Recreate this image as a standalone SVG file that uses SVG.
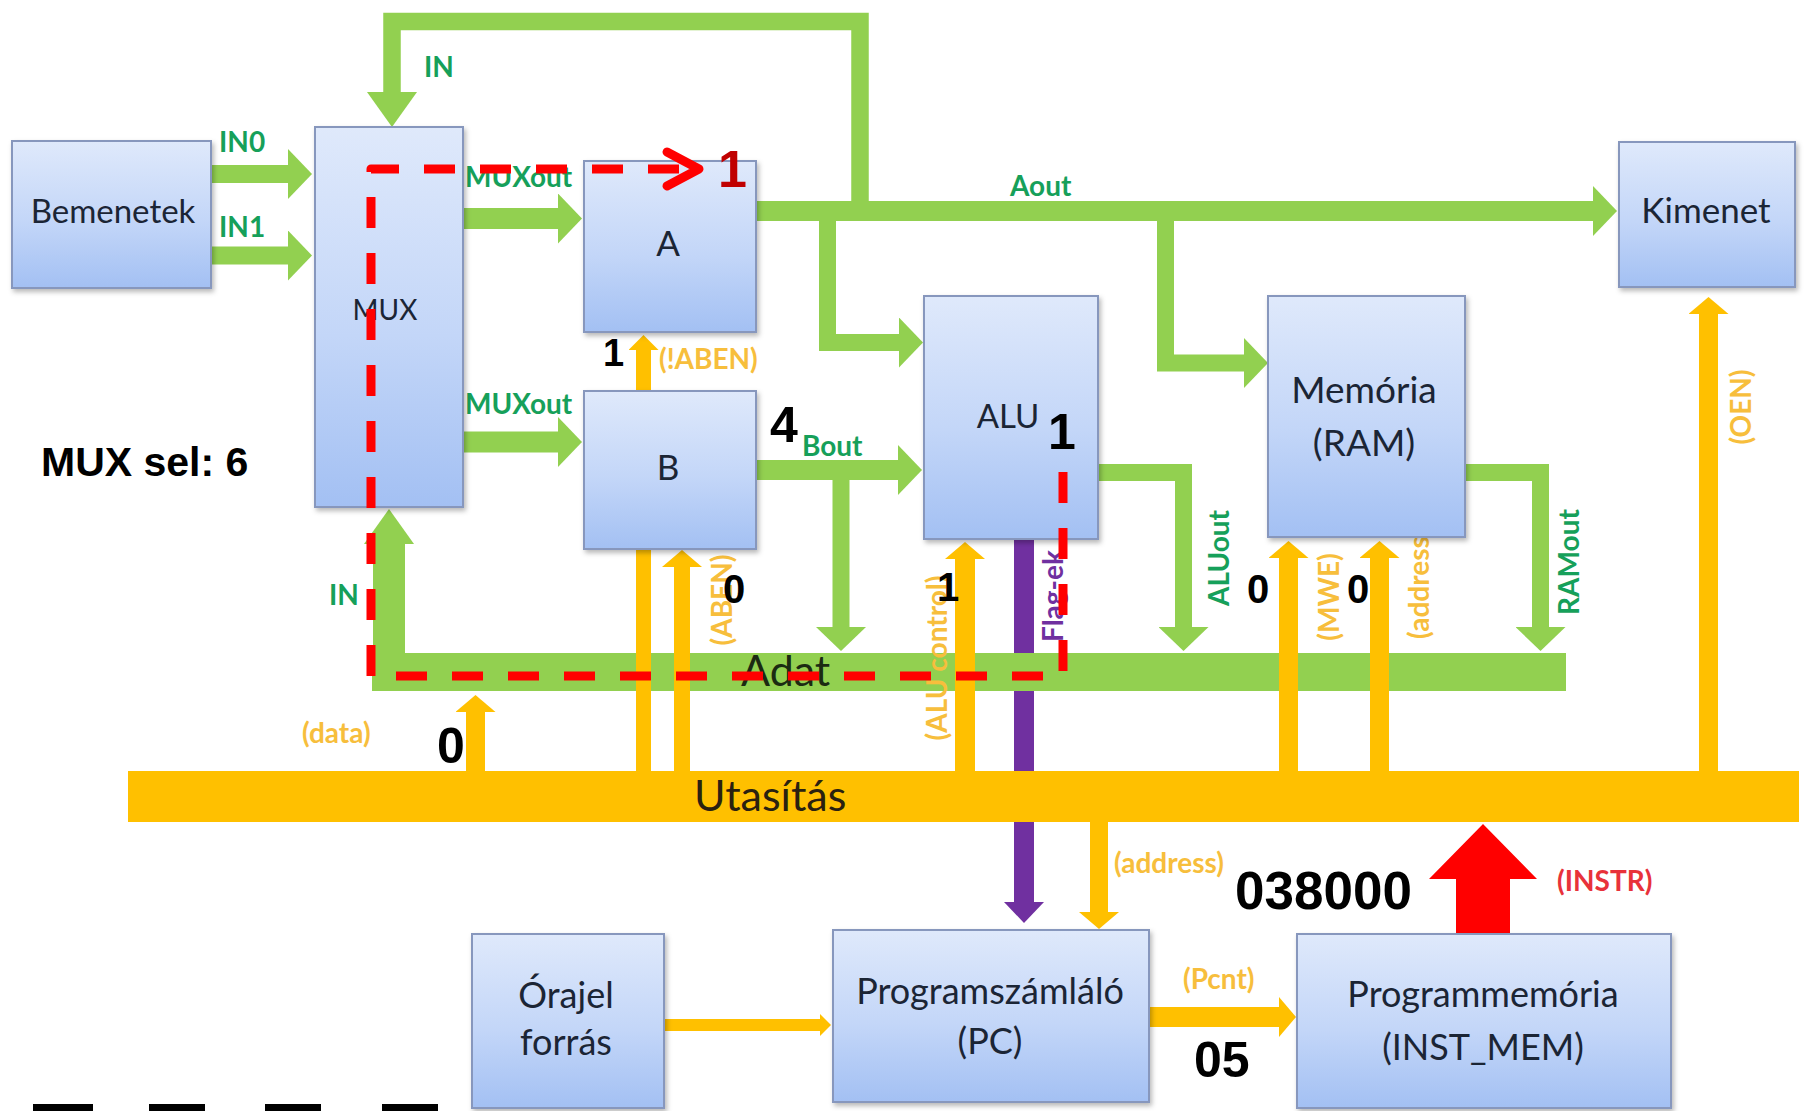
<svg xmlns="http://www.w3.org/2000/svg" width="1810" height="1111" viewBox="0 0 1810 1111">
<style>
.box{fill:url(#boxg);stroke:#8797bd;stroke-width:2;filter:url(#sh)}
.bt{font-family:Lato,"Open Sans","Liberation Sans",sans-serif;fill:#1b2535;text-anchor:middle}
.g{fill:none;stroke:#92D050;stroke-linejoin:miter}
.o{fill:none;stroke:#FFC000}
.gl{font-family:Lato,"Open Sans","Liberation Sans",sans-serif;font-weight:bold;font-size:28px;fill:#16a05a}
.ol{font-family:Lato,"Open Sans","Liberation Sans",sans-serif;font-weight:bold;font-size:28px;fill:#F7BE3C}
.num{font-family:"Liberation Sans",Arial,sans-serif;font-weight:bold;fill:#000}
.rd{fill:none;stroke:#FF0000;stroke-width:9}
</style>
<defs>
<linearGradient id="boxg" x1="0" y1="0" x2="0" y2="1">
<stop offset="0" stop-color="#dfe9fb"/>
<stop offset="0.55" stop-color="#c3d6f8"/>
<stop offset="1" stop-color="#a3c0f3"/>
</linearGradient>
<filter id="sh" x="-10%" y="-10%" width="125%" height="125%">
<feDropShadow dx="2" dy="3" stdDeviation="2.5" flood-color="#000" flood-opacity="0.28"/>
</filter>
<marker id="ga" markerUnits="userSpaceOnUse" viewBox="0 0 24 50" markerWidth="24" markerHeight="50" refX="1" refY="25" orient="auto"><path d="M0,0 L24,25 L0,50 Z" fill="#92D050"/></marker>
<marker id="gaL" markerUnits="userSpaceOnUse" viewBox="0 0 35 50" markerWidth="35" markerHeight="50" refX="1" refY="25" orient="auto"><path d="M0,0 L35,25 L0,50 Z" fill="#92D050"/></marker>
<marker id="oa" markerUnits="userSpaceOnUse" viewBox="0 0 17 40" markerWidth="17" markerHeight="40" refX="1" refY="20" orient="auto"><path d="M0,0 L17,20 L0,40 Z" fill="#FFC000"/></marker>
<marker id="oaM" markerUnits="userSpaceOnUse" viewBox="0 0 15 30" markerWidth="15" markerHeight="30" refX="1" refY="15" orient="auto"><path d="M0,0 L15,15 L0,30 Z" fill="#FFC000"/></marker>
<marker id="oaS" markerUnits="userSpaceOnUse" viewBox="0 0 11 22" markerWidth="11" markerHeight="22" refX="1" refY="11" orient="auto"><path d="M0,0 L11,11 L0,22 Z" fill="#FFC000"/></marker>
<marker id="pa" markerUnits="userSpaceOnUse" viewBox="0 0 21 40" markerWidth="21" markerHeight="40" refX="1" refY="20" orient="auto"><path d="M0,0 L21,20 L0,40 Z" fill="#7030A0"/></marker>
</defs>
<rect width="1810" height="1111" fill="#fff"/>

<g id="connectors">
<path d="M1024,539 V903" fill="none" stroke="#7030A0" stroke-width="20" marker-end="url(#pa)"/>
<g id="green">
<path class="g" d="M860,221 V21.5 H392 V93" stroke-width="17.5" marker-end="url(#gaL)"/>
<path class="g" d="M211,174 H289" stroke-width="18" marker-end="url(#ga)"/>
<path class="g" d="M211,255.5 H289" stroke-width="18" marker-end="url(#ga)"/>
<path class="g" d="M463,218.5 H559" stroke-width="21" marker-end="url(#ga)"/>
<path class="g" d="M463,442 H559" stroke-width="21" marker-end="url(#ga)"/>
<path class="g" d="M756,211 H1594" stroke-width="20" marker-end="url(#ga)"/>
<path class="g" d="M827.5,211 V342.5 H900" stroke-width="17" marker-end="url(#ga)"/>
<path class="g" d="M1165.5,211 V363 H1245" stroke-width="17" marker-end="url(#ga)"/>
<path class="g" d="M756,470 H899" stroke-width="20" marker-end="url(#ga)"/>
<path class="g" d="M841,470 V628" stroke-width="17" marker-end="url(#ga)"/>
<path class="g" d="M1098,472.5 H1183.5 V628" stroke-width="17" marker-end="url(#ga)"/>
<path class="g" d="M1465,472.5 H1540.5 V628" stroke-width="17" marker-end="url(#ga)"/>
<rect id="adat-bus" x="372" y="653" width="1194" height="38" fill="#92D050"/>
<path class="g" d="M389,691 V543" stroke-width="32" marker-end="url(#gaL)"/>
</g>
<g id="orange">
<rect id="utasitas-bus" x="128" y="771" width="1671" height="51" fill="#FFC000"/>
<path class="o" d="M643.5,771 V349" stroke-width="15" marker-end="url(#oaM)"/>
<path class="o" d="M682,771 V566" stroke-width="16" marker-end="url(#oa)"/>
<path class="o" d="M475.5,771 V711" stroke-width="19" marker-end="url(#oa)"/>
<path class="o" d="M965,771 V558" stroke-width="20" marker-end="url(#oa)"/>
<path class="o" d="M1288.5,771 V557" stroke-width="19" marker-end="url(#oa)"/>
<path class="o" d="M1379.5,771 V557" stroke-width="19" marker-end="url(#oa)"/>
<path class="o" d="M1708.5,771 V313" stroke-width="19" marker-end="url(#oa)"/>
<path class="o" d="M1099,822 V913" stroke-width="18" marker-end="url(#oa)"/>
<path class="o" d="M1149,1017 H1280" stroke-width="20" marker-end="url(#oa)"/>
<path class="o" d="M664,1025 H821" stroke-width="12" marker-end="url(#oaS)"/>
</g>
<polygon id="instr" points="1456,934 1456,879 1429,879 1483,824 1537,879 1510,879 1510,934" fill="#FF0000"/>
</g>

<g id="labels">
<text class="gl" x="424" y="77">IN</text>
<text class="gl" x="219" y="152">IN0</text>
<text class="gl" x="219" y="237">IN1</text>
<text class="gl" x="465" y="187">MUXout</text>
<text class="gl" x="465" y="414">MUXout</text>
<text class="gl" x="1010" y="196">Aout</text>
<text class="gl" x="802" y="456">Bout</text>
<text class="gl" x="329" y="605">IN</text>
<text class="gl" text-anchor="middle" transform="translate(1229,558) rotate(-90)">ALUout</text>
<text class="gl" text-anchor="middle" transform="translate(1579,562) rotate(-90)">RAMout</text>
<text class="ol" x="659" y="369">(!ABEN)</text>
<text class="ol" text-anchor="middle" transform="translate(732,600) rotate(-90)">(ABEN)</text>
<text class="ol" x="302" y="743">(data)</text>
<text class="ol" text-anchor="middle" transform="translate(947,658) rotate(-90)">(ALU control)</text>
<text class="ol" text-anchor="middle" transform="translate(1339,597) rotate(-90)">(MWE)</text>
<text class="ol" text-anchor="middle" transform="translate(1429,584) rotate(-90)">(address)</text>
<text class="ol" text-anchor="middle" transform="translate(1751,407) rotate(-90)">(OEN)</text>
<text class="ol" x="1114" y="873">(address)</text>
<text class="ol" x="1183" y="989">(Pcnt)</text>
<text class="ol" x="1557" y="891" style="fill:#E8323A">(INSTR)</text>
<text class="gl" text-anchor="middle" transform="translate(1063,596) rotate(-90)" style="fill:#7030A0">Flag-ek</text>
<text x="741" y="686" font-family="Lato,'Open Sans',sans-serif" font-size="43" fill="#1b2b12">Adat</text>
<text x="694" y="811" font-family="Lato,'Open Sans',sans-serif" font-size="43" fill="#2a2110">Utasítás</text>
</g>

<g id="n-bemenetek"><rect class="box" x="12" y="141" width="199" height="147"/><text class="bt" x="113" y="223" font-size="33">Bemenetek</text></g>
<g id="n-mux"><rect class="box" x="315" y="127" width="148" height="380"/><text class="bt" x="385" y="320" font-size="28">MUX</text></g>
<g id="n-a"><rect class="box" x="584" y="161" width="172" height="171"/><text class="bt" x="668" y="256" font-size="35">A</text></g>
<g id="n-b"><rect class="box" x="584" y="391" width="172" height="158"/><text class="bt" x="668" y="480" font-size="35">B</text></g>
<g id="n-alu"><rect class="box" x="924" y="296" width="174" height="243"/><text class="bt" x="1008" y="428" font-size="33">ALU</text></g>
<g id="n-ram"><rect class="box" x="1268" y="296" width="197" height="241"/><text class="bt" x="1364" y="403" font-size="37">Memória</text><text class="bt" x="1364" y="456" font-size="37">(RAM)</text></g>
<g id="n-kimenet"><rect class="box" x="1619" y="142" width="176" height="145"/><text class="bt" x="1706" y="223" font-size="35">Kimenet</text></g>
<g id="n-orajel"><rect class="box" x="472" y="934" width="192" height="174"/><text class="bt" x="566" y="1008" font-size="36">Órajel</text><text class="bt" x="566" y="1055" font-size="36">forrás</text></g>
<g id="n-pc"><rect class="box" x="833" y="930" width="316" height="172"/><text class="bt" x="990" y="1004" font-size="36">Programszámláló</text><text class="bt" x="990" y="1054" font-size="36">(PC)</text></g>
<g id="n-progmem"><rect class="box" x="1297" y="934" width="374" height="174"/><text class="bt" x="1483" y="1007" font-size="36">Programmemória</text><text class="bt" x="1483" y="1060" font-size="36">(INST_MEM)</text></g>

<g id="values">
<text class="num" x="41" y="476" font-size="41">MUX sel: 6</text>
<text class="num" x="718" y="187" font-size="52" style="fill:#C00000">1</text>
<text class="num" x="603" y="366" font-size="38">1</text>
<text class="num" x="770" y="442" font-size="50">4</text>
<text class="num" x="1048" y="449" font-size="50">1</text>
<text class="num" x="723" y="603" font-size="40">0</text>
<text class="num" x="937" y="601" font-size="40">1</text>
<text class="num" x="1247" y="603" font-size="40">0</text>
<text class="num" x="1347" y="603" font-size="40">0</text>
<text class="num" x="437" y="763" font-size="50">0</text>
<text class="num" x="1235" y="909" font-size="53">038000</text>
<text class="num" x="1194" y="1077" font-size="50">05</text>
</g>

<g id="highlight">
<path class="rd" d="M1063,472 V676 H371 V169 H690" stroke-dasharray="31 25" stroke-linejoin="round"/>
<path class="rd" d="M667,152 L699,169 L667,186" stroke-linecap="round" stroke-linejoin="round"/>
</g>

<g id="edge-marks" fill="#000">
<rect x="33" y="1104" width="60" height="7"/>
<rect x="149" y="1104" width="56" height="7"/>
<rect x="265" y="1104" width="56" height="7"/>
<rect x="382" y="1104" width="56" height="7"/>
</g>
</svg>
